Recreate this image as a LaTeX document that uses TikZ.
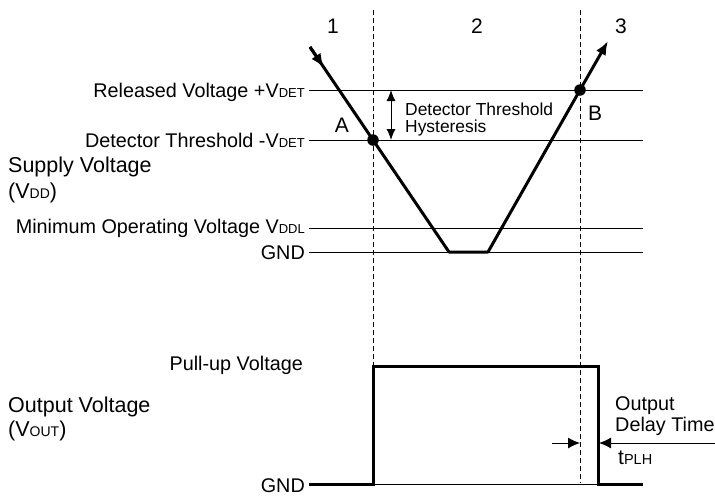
\documentclass[tikz,border=0pt]{standalone}
\usepackage{fontspec}
\setmainfont{Liberation Sans}
\usetikzlibrary{arrows.meta}
\newcommand\sml[1]{{\fontsize{13}{13}\selectfont #1}}
\newcommand\smb[1]{{\fontsize{14}{14}\selectfont #1}}
\begin{document}
\begin{tikzpicture}[x=1pt,y=-1pt,
  thinln/.style={line width=1pt},
  boldln/.style={line width=3pt},
  dashln/.style={line width=0.9pt, dash pattern=on 5pt off 3pt},
  lbl/.style={font=\fontsize{19.8}{22}\selectfont, inner sep=0pt, anchor=base east},
  lblw/.style={font=\fontsize{19.8}{22}\selectfont, inner sep=0pt, anchor=base west},
  big/.style={font=\fontsize{21.5}{24}\selectfont, inner sep=0pt, anchor=base west},
  num/.style={font=\fontsize{21}{24}\selectfont, inner sep=0pt, anchor=base},
  hys/.style={font=\fontsize{17.4}{20}\selectfont, inner sep=0pt, anchor=base west},
  dot/.style={circle, fill=black, inner sep=0pt, minimum size=11.5pt},
  tipA/.style={-{Latex[length=14pt,width=11pt]}},
  tipH/.style={{Latex[length=11pt,width=9pt]}-{Latex[length=11pt,width=9pt]}},
  tipD/.style={-{Latex[length=12pt,width=11pt]}}
]
\useasboundingbox (0,0) rectangle (715,496);

% dashed verticals
\coordinate (d1t) at (373,10); \coordinate (d1b) at (373,483);
\coordinate (d2t) at (580,10); \coordinate (d2b) at (580,483);
\draw[dashln] (d1t) -- (d1b);
\draw[dashln] (d2t) -- (d2b);

% horizontal level lines
\coordinate (relL) at (309,90);  \coordinate (relR) at (643,90);
\coordinate (detL) at (309,140); \coordinate (detR) at (643,140);
\coordinate (minL) at (309,228); \coordinate (minR) at (643,228);
\coordinate (gndL) at (309,252); \coordinate (gndR) at (643,252);
\draw[thinln] (relL) -- (relR);
\draw[thinln] (detL) -- (detR);
\draw[thinln] (minL) -- (minR);
\draw[thinln] (gndL) -- (gndR);

% level labels
\node[lbl] (lrel) at (305,97) {Released Voltage +V\sml{DET}};
\node[lbl] (ldet) at (305,147) {Detector Threshold -V\sml{DET}};
\node[lbl] (lmin) at (305,233) {Minimum Operating Voltage V\sml{DDL}};
\node[lbl] (lgnd) at (305,259) {GND};
\node[big] (sv1) at (8,172) {Supply Voltage};
\node[big] (sv2) at (8,198) {(V\smb{DD})};

% region numbers
\node[num] (n1) at (333,33) {1};
\node[num] (n2) at (477,33) {2};
\node[num] (n3) at (621,33) {3};

% supply voltage curve
\coordinate (s0) at (310,47);
\coordinate (s1) at (324,67.6);
\coordinate (bl) at (449,252);
\coordinate (br) at (488,252);
\coordinate (s9) at (608,41);
\node[dot] (A) at (373,140) {};
\node[dot] (B) at (580,90) {};
\draw[boldln, line join=round] (s0) -- (A.center) -- (bl) -- (br) -- (B.center);
\draw[boldln, tipA] (s0) -- (s1);
\draw[boldln, tipA] (B.center) -- (s9);
\node[num] (la) at (342,132) {A};
\node[num] (lb) at (595,120) {B};

% hysteresis
\coordinate (h1) at (391,90); \coordinate (h2) at (391,140);
\draw[thinln, tipH] (h1) -- (h2);
\node[hys] (ht1) at (405,115) {Detector Threshold};
\node[hys] (ht2) at (405,132) {Hysteresis};

% output pulse
\coordinate (o0) at (309,484);
\coordinate (o1) at (373,484);
\coordinate (o2) at (373,366);
\coordinate (o3) at (598,366);
\coordinate (o4) at (598,484);
\coordinate (o5) at (643,484);
\draw[thinln] (o1) -- (o4);
\draw[boldln, line join=miter] (o0) -- (o1) -- (o2) -- (o3) -- (o4) -- (o5);

\node[lbl] (pu) at (303,370) {Pull-up Voltage};
\node[lbl] (og) at (305,492) {GND};
\node[big] (ov1) at (8,412) {Output Voltage};
\node[big] (ov2) at (8,436) {(V\smb{OUT})};

% delay arrows
\coordinate (a1s) at (552,443); \coordinate (a1e) at (580,443);
\coordinate (a2s) at (715,443); \coordinate (a2e) at (599,443);
\draw[thinln, tipD] (a1s) -- (a1e);
\draw[thinln, tipD] (a2s) -- (a2e);
\node[lblw] (od1) at (615,410) {Output};
\node[lblw] (od2) at (615,431) {Delay Time};
\node[lblw] (tp) at (618,464) {{\fontsize{21}{21}\selectfont t}{\fontsize{14.5}{14.5}\selectfont PLH}};
\end{tikzpicture}
\end{document}
